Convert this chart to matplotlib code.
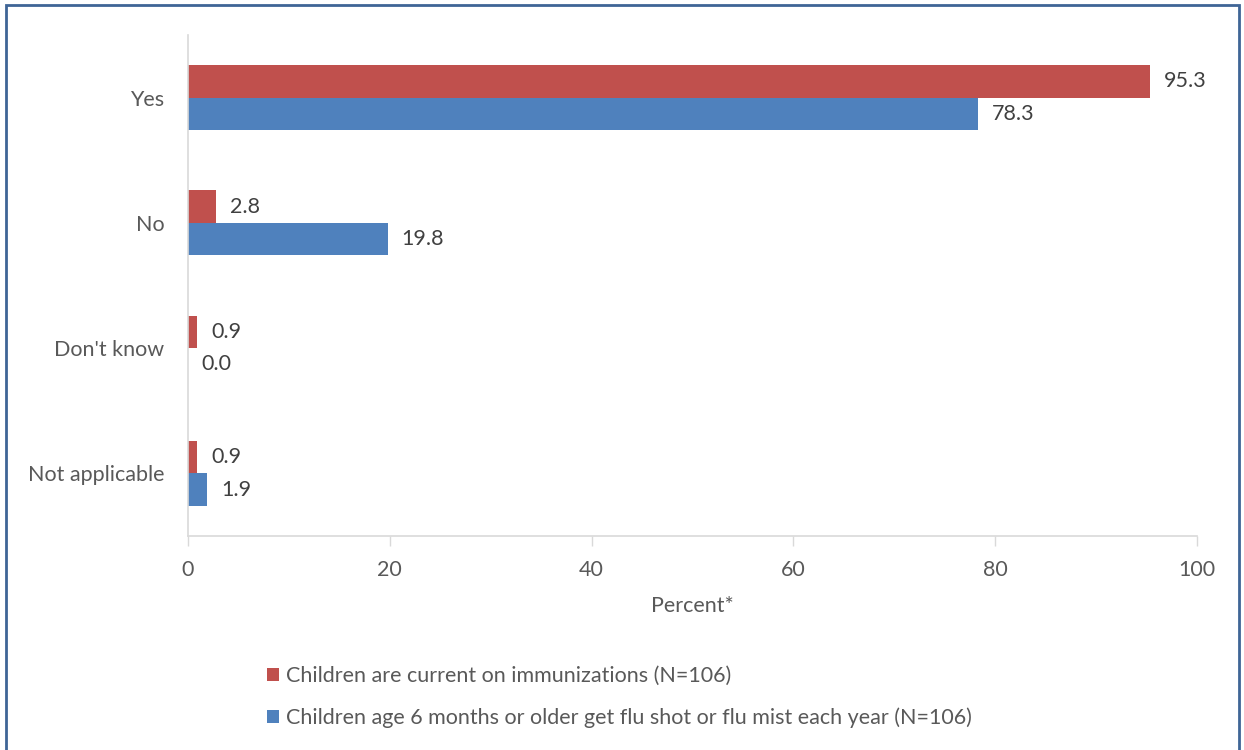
import matplotlib.pyplot as plt
import numpy as np
from matplotlib.patches import Rectangle

plt.rcParams['font.family'] = ['Lato', 'DejaVu Sans']

categories = ['Yes', 'No', "Don't know", 'Not applicable']
immunized = [95.3, 2.8, 0.9, 0.9]
flu_shot = [78.3, 19.8, 0.0, 1.9]
series_names = ['Children are current on immunizations (N=106)',
                'Children age 6 months or older get flu shot or flu mist each year (N=106)']
xticks = [0, 20, 40, 60, 80, 100]

red = '#C0504D'
blue = '#4F81BD'
grey_text = '#595959'
axis_grey = '#D9D9D9'
fs = 15.5

fig = plt.figure(figsize=[12.44, 7.5], dpi=100)
ax = fig.add_axes([0.1511, 0.2853, 0.8111, 0.668])

y = np.arange(len(categories))
h = 0.26
b1 = ax.barh(y - h / 2, immunized, height=h, color=red, label=series_names[0])
b2 = ax.barh(y + h / 2, flu_shot, height=h, color=blue, label=series_names[1])

for bars, vals in [(b1, immunized), (b2, flu_shot)]:
    for bar, v in zip(bars, vals):
        ax.annotate('%.1f' % v, (bar.get_width(), bar.get_y() + bar.get_height() / 2),
                    xytext=(10, 0), textcoords='offset points', va='center', ha='left',
                    fontsize=fs, color='#404040')

ax.set_xlim(0, 100)
ax.set_ylim(3.5, -0.5)
ax.set_yticks(y)
ax.set_yticklabels(categories)
ax.set_xticks(xticks)
ax.tick_params(axis='y', length=0, pad=17, labelsize=fs, labelcolor=grey_text)
ax.tick_params(axis='x', length=7, width=1, color=axis_grey, pad=10, labelsize=fs, labelcolor=grey_text)
for s in ['top', 'right']:
    ax.spines[s].set_visible(False)
for s in ['left', 'bottom']:
    ax.spines[s].set_color(axis_grey)
    ax.spines[s].set_linewidth(1.2)
ax.set_xlabel('Percent*', fontsize=fs, color=grey_text, labelpad=12)

leg = fig.legend(handles=[b1, b2], loc='upper left', bbox_to_anchor=(0.2063, 0.126),
                 frameon=False, fontsize=fs, labelcolor=grey_text, handlelength=0.55,
                 handleheight=0.55, handletextpad=0.3, labelspacing=1.0, borderpad=0)

fig.patches.append(Rectangle((6 / 1244, -0.05), 1233 / 1244, 1.05 - 5 / 750,
                             transform=fig.transFigure, fill=False,
                             edgecolor='#3F6596', linewidth=2))

fig.savefig('out.png', dpi=100)
